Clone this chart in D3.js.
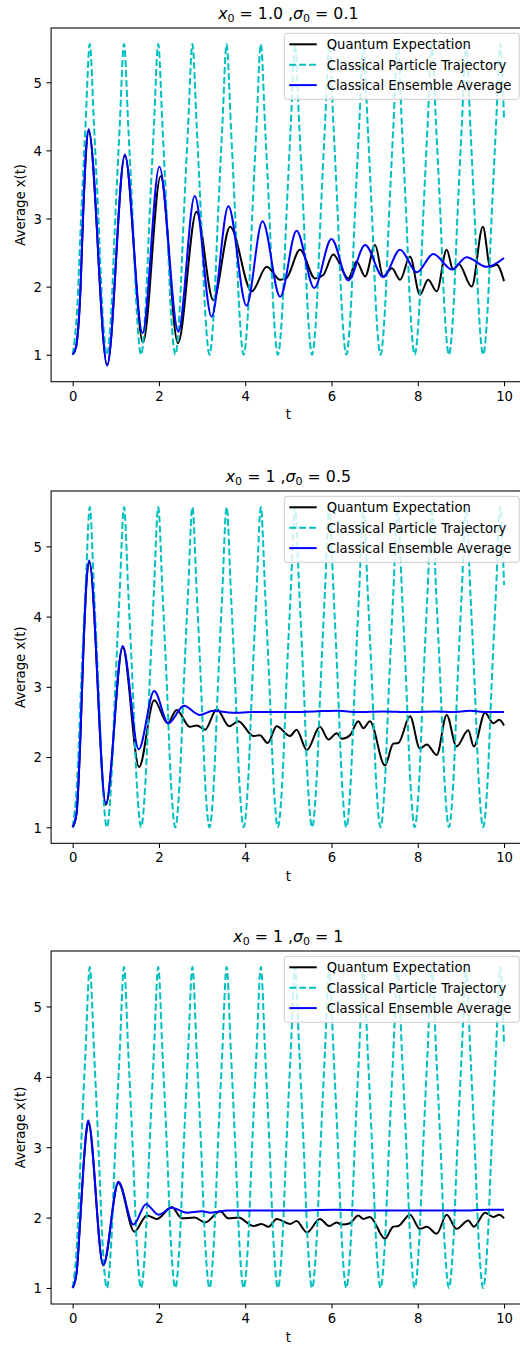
<!DOCTYPE html>
<html>
<head>
<meta charset="utf-8">
<script src="https://cdn.jsdelivr.net/npm/d3@7"></script>
<style>
  html, body { margin: 0; padding: 0; background: #fff; }
  svg { display: block; font-family: "DejaVu Sans", sans-serif; }
</style>
</head>
<body>
<svg id="fig" width="520" height="1347"></svg>
<script>
// ---- data -------------------------------------------------------------

// single classical particle released at rest from x0 = 1 (same in every panel)
const trajT = [
  0, 0.099, 0.198, 0.297, 0.397, 0.496, 0.595, 0.694,
  0.793, 0.892, 0.991, 1.090, 1.190, 1.289, 1.388, 1.487,
  1.586, 1.685, 1.784, 1.883, 1.983, 2.082, 2.181, 2.280,
  2.379, 2.478, 2.577, 2.676, 2.776, 2.875, 2.974, 3.073,
  3.172, 3.271, 3.370, 3.469, 3.569, 3.668, 3.767, 3.866,
  3.965, 4.064, 4.163, 4.262, 4.362, 4.461, 4.560, 4.659,
  4.758, 4.857, 4.956, 5.055, 5.155, 5.254, 5.353, 5.452,
  5.551, 5.650, 5.749, 5.848, 5.948, 6.047, 6.146, 6.245,
  6.344, 6.443, 6.542, 6.641, 6.741, 6.840, 6.939, 7.038,
  7.137, 7.236, 7.335, 7.434, 7.534, 7.633, 7.732, 7.831,
  7.930, 8.029, 8.128, 8.227, 8.327, 8.426, 8.525, 8.624,
  8.723, 8.822, 8.921, 9.020, 9.120, 9.219, 9.318, 9.417,
  9.516, 9.615, 9.714, 9.813, 9.913, 10.0
];
const trajX = [
  1.00, 1.62, 3.05, 4.35, 5.56, 4.35, 3.05, 1.62,
  1.00, 1.62, 3.05, 4.35, 5.56, 4.35, 3.05, 1.62,
  1.00, 1.62, 3.05, 4.35, 5.56, 4.35, 3.05, 1.62,
  1.00, 1.62, 3.05, 4.35, 5.56, 4.35, 3.05, 1.62,
  1.00, 1.62, 3.05, 4.35, 5.56, 4.35, 3.05, 1.62,
  1.00, 1.62, 3.05, 4.35, 5.56, 4.35, 3.05, 1.62,
  1.00, 1.62, 3.05, 4.35, 5.56, 4.35, 3.05, 1.62,
  1.00, 1.62, 3.05, 4.35, 5.56, 4.35, 3.05, 1.62,
  1.00, 1.62, 3.05, 4.35, 5.56, 4.35, 3.05, 1.62,
  1.00, 1.62, 3.05, 4.35, 5.56, 4.35, 3.05, 1.62,
  1.00, 1.62, 3.05, 4.35, 5.56, 4.35, 3.05, 1.62,
  1.00, 1.62, 3.05, 4.35, 5.56, 4.35, 3.05, 1.62,
  1.00, 1.62, 3.05, 4.35, 5.56, 4.45
];

// panel 1: x0 = 1.0, sigma0 = 0.1
const quantumT1 = [0, 0.08, 0.17, 0.25, 0.31, 0.37, 0.80, 1.21, 1.63, 2.04, 2.44, 2.87, 3.26, 3.65,
  4.15, 4.50, 4.81, 4.95, 5.27, 5.62, 5.81, 6.04, 6.39, 6.58, 6.78, 7.01, 7.20, 7.40, 7.59, 7.82,
  8.05, 8.24, 8.44, 8.67, 8.82, 8.95, 9.25, 9.51, 9.68, 9.83, 10.0];
const quantumX1 = [1.0, 1.12, 1.80, 3.15, 3.97, 4.28, 0.85, 3.92, 1.18, 3.62, 1.17, 3.10, 1.80, 2.88,
  1.93, 2.29, 2.10, 2.12, 2.54, 2.12, 2.17, 2.47, 2.12, 2.37, 2.15, 2.61, 2.15, 2.27, 2.10, 2.44,
  1.88, 2.10, 1.93, 2.54, 2.25, 2.33, 2.00, 2.88, 2.29, 2.32, 2.08];
const ensembleT1 = [0, 0.08, 0.17, 0.25, 0.31, 0.37, 0.80, 1.21, 1.62, 2.01, 2.45, 2.83, 3.22, 3.61,
  4.03, 4.40, 4.81, 5.19, 5.60, 6.00, 6.39, 6.78, 7.20, 7.59, 7.98, 8.36, 8.79, 9.13, 9.60, 10.0];
const ensembleX1 = [1.0, 1.12, 1.82, 3.20, 4.00, 4.31, 0.84, 3.94, 1.32, 3.76, 1.34, 3.33, 1.56, 3.18,
  1.72, 2.96, 1.85, 2.82, 1.98, 2.70, 2.09, 2.61, 2.14, 2.54, 2.21, 2.48, 2.25, 2.43, 2.29, 2.42];

// panel 2: x0 = 1, sigma0 = 0.5
const quantumT2 = [0, 0.09, 0.17, 0.25, 0.32, 0.385, 0.77, 1.16, 1.54, 1.89, 2.20, 2.41, 2.72, 2.88,
  3.07, 3.34, 3.63, 3.84, 4.19, 4.34, 4.52, 4.73, 5.04, 5.19, 5.43, 5.73, 5.93, 6.12, 6.24, 6.43,
  6.62, 6.74, 6.89, 7.24, 7.43, 7.55, 7.82, 8.05, 8.21, 8.44, 8.67, 8.90, 9.17, 9.30, 9.56, 9.75,
  9.89, 10.0];
const quantumX2 = [1.0, 1.20, 2.12, 3.53, 4.47, 4.77, 1.32, 3.56, 1.86, 2.81, 2.48, 2.67, 2.43, 2.45,
  2.39, 2.68, 2.44, 2.51, 2.30, 2.31, 2.20, 2.44, 2.30, 2.39, 2.10, 2.43, 2.25, 2.34, 2.26, 2.31,
  2.51, 2.41, 2.51, 1.88, 2.19, 2.20, 2.58, 2.12, 2.18, 2.03, 2.60, 2.15, 2.38, 2.15, 2.63, 2.48,
  2.53, 2.45];
const ensembleT2 = [0, 0.09, 0.17, 0.25, 0.32, 0.385, 0.77, 1.16, 1.53, 1.89, 2.22, 2.58, 2.94, 3.26,
  3.70, 4.20, 5.00, 5.60, 6.16, 6.60, 7.20, 7.80, 8.40, 8.80, 9.21, 9.60, 10.0];
const ensembleX2 = [1.0, 1.20, 2.14, 3.57, 4.51, 4.80, 1.34, 3.58, 2.11, 2.94, 2.48, 2.73, 2.60, 2.66,
  2.63, 2.64, 2.64, 2.65, 2.66, 2.64, 2.65, 2.64, 2.65, 2.64, 2.66, 2.64, 2.64];

// panel 3: x0 = 1, sigma0 = 1
const quantumT3 = [0, 0.09, 0.17, 0.25, 0.32, 0.36, 0.71, 1.06, 1.43, 1.72, 1.95, 2.30, 2.53, 2.83,
  3.07, 3.42, 3.61, 3.84, 4.19, 4.38, 4.54, 4.73, 5.04, 5.19, 5.43, 5.73, 5.95, 6.12, 6.24, 6.43,
  6.62, 6.74, 6.89, 7.24, 7.43, 7.55, 7.82, 8.05, 8.21, 8.44, 8.67, 8.90, 9.17, 9.30, 9.56, 9.75,
  9.89, 10.0];
const quantumX3 = [1.0, 1.21, 1.91, 2.71, 3.22, 3.35, 1.32, 2.49, 1.80, 2.03, 1.98, 2.15, 1.99, 2.00,
  1.93, 2.09, 1.99, 2.00, 1.88, 1.91, 1.87, 1.98, 1.91, 1.95, 1.79, 1.98, 1.88, 1.93, 1.90, 1.92,
  2.03, 1.98, 2.01, 1.70, 1.87, 1.88, 2.04, 1.84, 1.87, 1.77, 2.04, 1.84, 1.96, 1.87, 2.07, 2.01,
  2.04, 1.99];
const ensembleT3 = [0, 0.09, 0.17, 0.25, 0.32, 0.36, 0.71, 1.06, 1.41, 1.70, 1.99, 2.30, 2.64, 2.99,
  3.20, 3.60, 4.20, 5.00, 6.10, 7.00, 8.00, 9.00, 9.60, 10.0];
const ensembleX3 = [1.0, 1.21, 1.92, 2.73, 3.25, 3.38, 1.33, 2.51, 1.90, 2.19, 2.04, 2.14, 2.07, 2.09,
  2.07, 2.10, 2.10, 2.10, 2.11, 2.10, 2.10, 2.10, 2.11, 2.11];

const x0Labels = ["1.0", "1", "1"];
const sigmaLabels = ["0.1", "0.5", "1"];
const xTicks = [0, 2, 4, 6, 8, 10];
const yTicks = [1, 2, 3, 4, 5];
const seriesNames = ["Quantum Expectation", "Classical Particle Trajectory", "Classical Ensemble Average"];

// ---- drawing -----------------------------------------------------------

const quantumT = [quantumT1, quantumT2, quantumT3];
const quantumX = [quantumX1, quantumX2, quantumX3];
const ensembleT = [ensembleT1, ensembleT2, ensembleT3];
const ensembleX = [ensembleX1, ensembleX2, ensembleX3];

const svg = d3.select("#fig");
const FS = 13.2;             // tick / label / legend font size
const TITLE_FS = 15.8;
const axLeft = 51.1, axRight = 525.6;
const axTops = [28, 491, 951];
const axBottoms = [381.7, 843.3, 1304];
const colors = { quantum: "#000000", traj: "#00bfbf", ensemble: "#0000ff" };
const LW = 2;
const DASH = "6.9,3";

const zip = (ts, xs) => ts.map((t, i) => [t, xs[i]]);

for (let p = 0; p < 3; p++) {
  const top = axTops[p], bottom = axBottoms[p];
  const g = svg.append("g");

  const x = d3.scaleLinear().domain([-0.5, 10.5]).range([axLeft, axRight]);
  const allY = trajX.concat(quantumX[p], ensembleX[p]);
  const [lo, hi] = d3.extent(allY);
  const pad = 0.05 * (hi - lo);
  const y = d3.scaleLinear().domain([lo - pad, hi + pad]).range([bottom, top]);

  const clipId = "clip" + p;
  g.append("clipPath").attr("id", clipId)
    .append("rect")
    .attr("x", axLeft).attr("y", top)
    .attr("width", axRight - axLeft).attr("height", bottom - top);

  const line = d3.line()
    .x(d => x(d[0]))
    .y(d => y(d[1]))
    .curve(d3.curveMonotoneX);

  const plot = g.append("g").attr("clip-path", `url(#${clipId})`);
  plot.append("path")
    .attr("d", line(zip(quantumT[p], quantumX[p])))
    .attr("fill", "none").attr("stroke", colors.quantum).attr("stroke-width", LW);
  plot.append("path")
    .attr("d", line(zip(trajT, trajX)))
    .attr("fill", "none").attr("stroke", colors.traj).attr("stroke-width", LW)
    .attr("stroke-dasharray", DASH);
  plot.append("path")
    .attr("d", line(zip(ensembleT[p], ensembleX[p])))
    .attr("fill", "none").attr("stroke", colors.ensemble).attr("stroke-width", LW);

  // axes
  const xAxis = d3.axisBottom(x).tickValues(xTicks).tickFormat(d3.format("d"))
    .tickSize(4.6).tickSizeOuter(0).tickPadding(5.2);
  const gx = g.append("g").attr("transform", `translate(0,${bottom})`).call(xAxis);
  const yAxis = d3.axisLeft(y).tickValues(yTicks).tickFormat(d3.format("d"))
    .tickSize(4.6).tickSizeOuter(0).tickPadding(4.6);
  const gy = g.append("g").attr("transform", `translate(${axLeft},0)`).call(yAxis);
  [gx, gy].forEach(ax => {
    ax.select(".domain").remove();
    ax.selectAll(".tick line").attr("stroke", "#000").attr("stroke-width", 1.05);
    ax.selectAll(".tick text").attr("fill", "#000")
      .style("font-size", FS + "px").style("font-family", "'DejaVu Sans', sans-serif");
  });
  gy.selectAll(".tick text").attr("dy", "0.37em");

  // frame
  g.append("rect")
    .attr("x", axLeft).attr("y", top)
    .attr("width", axRight - axLeft).attr("height", bottom - top)
    .attr("fill", "none").attr("stroke", "#000").attr("stroke-width", 1.05);

  // axis labels
  g.append("text")
    .attr("x", (axLeft + axRight) / 2).attr("y", bottom + 37.5)
    .attr("text-anchor", "middle").style("font-size", FS + "px")
    .text("t");
  g.append("text")
    .attr("transform", `translate(24.5,${(top + bottom) / 2}) rotate(-90)`)
    .attr("text-anchor", "middle").style("font-size", FS + "px")
    .text("Average x(t)");

  // title: x_0 = .. , sigma_0 = ..
  const title = g.append("text")
    .attr("x", (axLeft + axRight) / 2).attr("y", top - 8.7)
    .attr("text-anchor", "middle")
    .style("font-size", TITLE_FS + "px")
    .style("white-space", "pre");
  title.append("tspan").style("font-style", "italic").text("x");
  title.append("tspan").attr("dy", 3).style("font-size", (TITLE_FS * 0.7) + "px").text("0");
  title.append("tspan").attr("dy", -3).text(" = " + x0Labels[p] + " ,");
  title.append("tspan").style("font-style", "italic").text("σ");
  title.append("tspan").attr("dy", 3).style("font-size", (TITLE_FS * 0.7) + "px").text("0");
  title.append("tspan").attr("dy", -3).text(" = " + sigmaLabels[p]);

  // legend
  const lg = g.append("g");
  const lgX = 284.3, lgY = top + 5.3, lgW = 235, lgH = 66;
  lg.append("rect")
    .attr("x", lgX).attr("y", lgY).attr("width", lgW).attr("height", lgH)
    .attr("rx", 2.6)
    .attr("fill", "#fff").attr("fill-opacity", 0.8)
    .attr("stroke", "#cccccc").attr("stroke-width", 1);
  const styles = [
    { c: colors.quantum, dash: null },
    { c: colors.traj, dash: DASH },
    { c: colors.ensemble, dash: null }
  ];
  seriesNames.forEach((name, i) => {
    const base = lgY + 16 + i * 20.4;
    const h = lg.append("line")
      .attr("x1", lgX + 5).attr("x2", lgX + 32.4)
      .attr("y1", base - 5).attr("y2", base - 5)
      .attr("stroke", styles[i].c).attr("stroke-width", LW);
    if (styles[i].dash) h.attr("stroke-dasharray", styles[i].dash);
    lg.append("text")
      .attr("x", lgX + 42.4).attr("y", base)
      .style("font-size", FS + "px")
      .text(name);
  });
}
</script>
</body>
</html>
